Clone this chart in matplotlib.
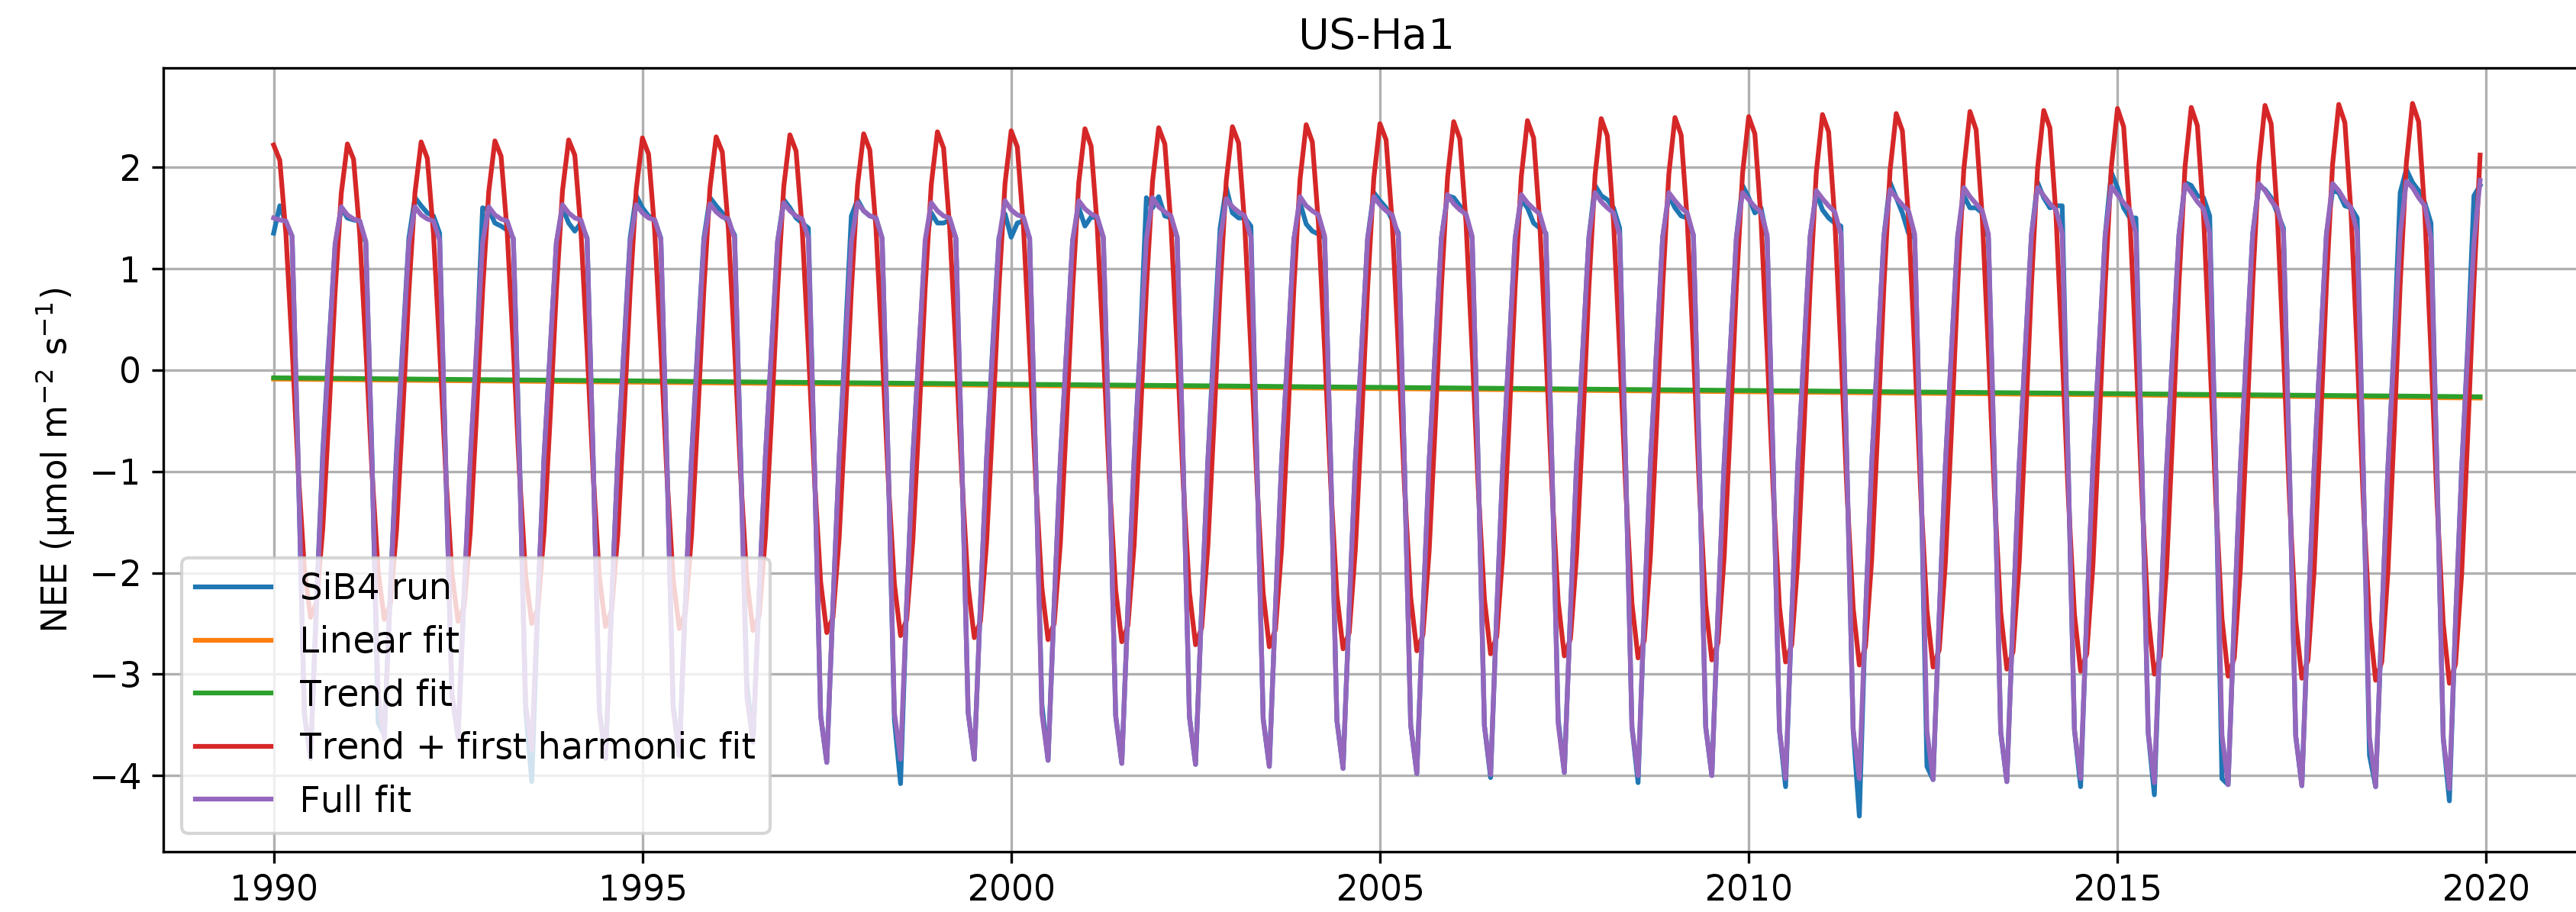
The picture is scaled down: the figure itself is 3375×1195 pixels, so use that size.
"""
NEE at US-Ha1: SiB4 run against linear, trend, harmonic and full curve fits.
"""

import numpy as np
import matplotlib.pyplot as plt

plt.rcParams["font.size"] = 11
# older-style glyph hinting / kerning, which sets text a little wider
plt.rcParams["text.hinting"] = "native"
plt.rcParams["text.hinting_factor"] = 1
plt.rcParams["text.kerning_factor"] = 6

# Monthly values, one row per year (Jan..Dec), 1990-2019
years = list(range(1990, 2020))

sib4_run = [
    [1.35, 1.62, 1.45, 1.32, -0.95, -3.40, -3.83, -2.25, -0.80, 0.25, 1.22, 1.60],
    [1.50, 1.48, 1.47, 1.25, -0.85, -3.48, -3.60, -2.15, -0.80, 0.25, 1.30, 1.70],
    [1.62, 1.55, 1.52, 1.35, -0.95, -3.20, -3.62, -2.20, -0.90, 0.15, 1.60, 1.58],
    [1.45, 1.42, 1.38, 1.30, -0.85, -3.35, -4.06, -2.30, -0.85, 0.20, 1.25, 1.60],
    [1.45, 1.37, 1.45, 1.30, -0.90, -3.35, -3.83, -2.30, -0.85, 0.22, 1.30, 1.72],
    [1.60, 1.52, 1.48, 1.30, -0.92, -3.30, -3.80, -2.28, -0.85, 0.25, 1.30, 1.70],
    [1.62, 1.55, 1.45, 1.33, -0.90, -3.10, -3.67, -2.20, -0.87, 0.20, 1.27, 1.68],
    [1.60, 1.50, 1.45, 1.40, -0.95, -3.41, -3.87, -2.32, -0.88, 0.30, 1.52, 1.68],
    [1.57, 1.52, 1.50, 1.30, -0.93, -3.45, -4.08, -2.30, -0.85, 0.20, 1.20, 1.55],
    [1.45, 1.45, 1.48, 1.30, -0.94, -3.38, -3.84, -2.30, -0.88, 0.25, 1.30, 1.54],
    [1.31, 1.45, 1.47, 1.30, -0.94, -3.30, -3.85, -2.31, -0.89, 0.20, 1.28, 1.60],
    [1.42, 1.51, 1.50, 1.30, -0.94, -3.41, -3.88, -2.33, -0.89, 0.25, 1.70, 1.60],
    [1.71, 1.52, 1.50, 1.31, -0.95, -3.42, -3.89, -2.33, -0.90, 0.30, 1.40, 1.80],
    [1.55, 1.50, 1.50, 1.42, -0.95, -3.44, -3.91, -2.35, -0.90, 0.20, 1.29, 1.65],
    [1.44, 1.37, 1.34, 1.30, -0.96, -3.46, -3.93, -2.36, -0.91, 0.20, 1.30, 1.75],
    [1.67, 1.60, 1.48, 1.35, -0.96, -3.50, -3.98, -2.39, -0.91, 0.20, 1.30, 1.72],
    [1.70, 1.62, 1.52, 1.30, -0.97, -3.51, -4.02, -2.39, -0.92, 0.20, 1.30, 1.68],
    [1.60, 1.45, 1.40, 1.35, -0.97, -3.45, -3.97, -2.38, -0.92, 0.20, 1.31, 1.82],
    [1.72, 1.68, 1.60, 1.40, -0.97, -3.52, -4.07, -2.40, -0.92, 0.20, 1.31, 1.72],
    [1.60, 1.52, 1.50, 1.33, -0.98, -3.52, -4.00, -2.40, -0.93, 0.20, 1.31, 1.82],
    [1.70, 1.55, 1.60, 1.30, -0.98, -3.55, -4.11, -2.42, -0.93, 0.20, 1.32, 1.75],
    [1.58, 1.50, 1.45, 1.42, -0.99, -3.55, -4.40, -2.42, -0.94, 0.20, 1.32, 1.85],
    [1.70, 1.55, 1.35, 1.30, -0.99, -3.91, -4.04, -2.42, -0.94, 0.20, 1.32, 1.72],
    [1.60, 1.60, 1.55, 1.30, -1.00, -3.57, -4.06, -2.44, -0.95, 0.20, 1.33, 1.85],
    [1.70, 1.60, 1.62, 1.62, -1.00, -3.55, -4.11, -2.42, -0.95, 0.20, 1.33, 1.95],
    [1.80, 1.60, 1.50, 1.50, -1.01, -3.58, -4.19, -2.44, -0.96, 0.20, 1.33, 1.85],
    [1.82, 1.72, 1.70, 1.52, -1.01, -4.03, -4.09, -2.45, -0.96, 0.20, 1.34, 1.82],
    [1.78, 1.70, 1.55, 1.40, -1.02, -3.61, -4.10, -2.46, -0.97, 0.20, 1.34, 1.77],
    [1.75, 1.62, 1.60, 1.50, -1.02, -3.80, -4.11, -2.47, -0.97, 0.25, 1.75, 1.98],
    [1.85, 1.77, 1.65, 1.45, -1.03, -3.63, -4.25, -2.48, -0.98, 0.25, 1.72, 1.82],
]

harmonic_fit = [
    [2.22, 2.07, 1.34, 0.22, -0.99, -1.96, -2.44, -2.29, -1.56, -0.44, 0.77, 1.74],
    [2.23, 2.08, 1.35, 0.22, -1.00, -1.98, -2.46, -2.31, -1.57, -0.44, 0.77, 1.75],
    [2.25, 2.09, 1.35, 0.21, -1.01, -2.00, -2.48, -2.33, -1.59, -0.45, 0.78, 1.76],
    [2.26, 2.11, 1.36, 0.21, -1.02, -2.02, -2.50, -2.35, -1.60, -0.46, 0.78, 1.77],
    [2.27, 2.12, 1.37, 0.21, -1.04, -2.04, -2.53, -2.37, -1.62, -0.46, 0.78, 1.78],
    [2.29, 2.13, 1.37, 0.21, -1.05, -2.06, -2.55, -2.39, -1.63, -0.47, 0.79, 1.80],
    [2.30, 2.15, 1.38, 0.21, -1.06, -2.07, -2.57, -2.42, -1.65, -0.48, 0.79, 1.81],
    [2.32, 2.16, 1.39, 0.21, -1.07, -2.09, -2.59, -2.44, -1.67, -0.48, 0.79, 1.82],
    [2.33, 2.17, 1.40, 0.21, -1.08, -2.11, -2.62, -2.46, -1.68, -0.49, 0.80, 1.83],
    [2.35, 2.19, 1.40, 0.20, -1.09, -2.13, -2.64, -2.48, -1.70, -0.50, 0.80, 1.84],
    [2.36, 2.20, 1.41, 0.20, -1.10, -2.15, -2.66, -2.50, -1.71, -0.50, 0.80, 1.85],
    [2.38, 2.21, 1.42, 0.20, -1.11, -2.17, -2.68, -2.52, -1.73, -0.51, 0.80, 1.86],
    [2.39, 2.23, 1.43, 0.20, -1.12, -2.19, -2.71, -2.54, -1.74, -0.52, 0.81, 1.87],
    [2.40, 2.24, 1.43, 0.20, -1.13, -2.20, -2.73, -2.56, -1.76, -0.52, 0.81, 1.88],
    [2.42, 2.25, 1.44, 0.20, -1.14, -2.22, -2.75, -2.59, -1.77, -0.53, 0.81, 1.89],
    [2.43, 2.27, 1.45, 0.20, -1.16, -2.24, -2.77, -2.61, -1.79, -0.54, 0.82, 1.90],
    [2.45, 2.28, 1.46, 0.19, -1.17, -2.26, -2.80, -2.63, -1.80, -0.54, 0.82, 1.91],
    [2.46, 2.29, 1.46, 0.19, -1.18, -2.28, -2.82, -2.65, -1.82, -0.55, 0.82, 1.92],
    [2.48, 2.31, 1.47, 0.19, -1.19, -2.30, -2.84, -2.67, -1.84, -0.56, 0.82, 1.93],
    [2.49, 2.32, 1.48, 0.19, -1.20, -2.32, -2.86, -2.69, -1.85, -0.56, 0.83, 1.94],
    [2.50, 2.33, 1.49, 0.19, -1.21, -2.33, -2.88, -2.71, -1.87, -0.57, 0.83, 1.95],
    [2.52, 2.35, 1.49, 0.19, -1.22, -2.35, -2.91, -2.73, -1.88, -0.58, 0.83, 1.97],
    [2.53, 2.36, 1.50, 0.19, -1.23, -2.37, -2.93, -2.76, -1.90, -0.58, 0.84, 1.98],
    [2.55, 2.37, 1.51, 0.18, -1.24, -2.39, -2.95, -2.78, -1.91, -0.59, 0.84, 1.99],
    [2.56, 2.39, 1.52, 0.18, -1.25, -2.41, -2.97, -2.80, -1.93, -0.59, 0.84, 2.00],
    [2.58, 2.40, 1.52, 0.18, -1.27, -2.43, -3.00, -2.82, -1.94, -0.60, 0.85, 2.01],
    [2.59, 2.41, 1.53, 0.18, -1.28, -2.45, -3.02, -2.84, -1.96, -0.61, 0.85, 2.02],
    [2.61, 2.43, 1.54, 0.18, -1.29, -2.47, -3.04, -2.86, -1.98, -0.61, 0.85, 2.03],
    [2.62, 2.44, 1.55, 0.18, -1.30, -2.48, -3.06, -2.88, -1.99, -0.62, 0.85, 2.04],
    [2.63, 2.45, 1.55, 0.18, -1.31, -2.50, -3.09, -2.90, -2.01, -0.63, 0.86, 2.12],
]

full_fit = [
    [1.50, 1.48, 1.47, 1.32, -0.90, -3.38, -3.83, -2.29, -0.85, 0.20, 1.25, 1.61],
    [1.53, 1.49, 1.47, 1.27, -0.90, -3.20, -3.64, -2.18, -0.85, 0.20, 1.25, 1.61],
    [1.53, 1.49, 1.47, 1.28, -0.91, -3.19, -3.63, -2.18, -0.86, 0.20, 1.26, 1.61],
    [1.53, 1.49, 1.47, 1.29, -0.91, -3.30, -3.75, -2.25, -0.86, 0.20, 1.26, 1.63],
    [1.55, 1.50, 1.48, 1.29, -0.92, -3.37, -3.83, -2.30, -0.87, 0.20, 1.26, 1.63],
    [1.55, 1.50, 1.48, 1.29, -0.92, -3.34, -3.80, -2.28, -0.87, 0.20, 1.27, 1.64],
    [1.56, 1.51, 1.49, 1.30, -0.92, -3.23, -3.67, -2.20, -0.87, 0.20, 1.27, 1.65],
    [1.57, 1.52, 1.49, 1.30, -0.93, -3.41, -3.87, -2.32, -0.88, 0.20, 1.27, 1.65],
    [1.57, 1.52, 1.50, 1.30, -0.93, -3.38, -3.84, -2.30, -0.88, 0.20, 1.28, 1.65],
    [1.57, 1.52, 1.50, 1.30, -0.94, -3.38, -3.84, -2.30, -0.88, 0.20, 1.28, 1.67],
    [1.58, 1.53, 1.51, 1.30, -0.94, -3.39, -3.85, -2.31, -0.89, 0.20, 1.28, 1.67],
    [1.59, 1.54, 1.51, 1.31, -0.94, -3.41, -3.88, -2.33, -0.89, 0.20, 1.29, 1.70],
    [1.61, 1.56, 1.52, 1.31, -0.95, -3.42, -3.89, -2.33, -0.90, 0.20, 1.29, 1.69],
    [1.61, 1.56, 1.52, 1.31, -0.95, -3.44, -3.91, -2.35, -0.90, 0.20, 1.29, 1.71],
    [1.62, 1.57, 1.53, 1.32, -0.96, -3.46, -3.93, -2.36, -0.91, 0.20, 1.30, 1.71],
    [1.63, 1.57, 1.53, 1.32, -0.96, -3.50, -3.98, -2.39, -0.91, 0.20, 1.30, 1.73],
    [1.64, 1.58, 1.54, 1.32, -0.97, -3.51, -3.99, -2.39, -0.92, 0.20, 1.30, 1.73],
    [1.65, 1.59, 1.54, 1.33, -0.97, -3.49, -3.97, -2.38, -0.92, 0.20, 1.31, 1.75],
    [1.66, 1.60, 1.55, 1.33, -0.97, -3.52, -4.00, -2.40, -0.92, 0.20, 1.31, 1.75],
    [1.67, 1.60, 1.55, 1.33, -0.98, -3.52, -4.00, -2.40, -0.93, 0.20, 1.31, 1.75],
    [1.68, 1.61, 1.56, 1.33, -0.98, -3.55, -4.03, -2.42, -0.93, 0.20, 1.32, 1.77],
    [1.69, 1.62, 1.56, 1.34, -0.99, -3.55, -4.03, -2.42, -0.94, 0.20, 1.32, 1.78],
    [1.70, 1.63, 1.57, 1.34, -0.99, -3.56, -4.04, -2.42, -0.94, 0.20, 1.32, 1.80],
    [1.71, 1.64, 1.57, 1.34, -1.00, -3.57, -4.06, -2.44, -0.95, 0.20, 1.33, 1.80],
    [1.72, 1.64, 1.58, 1.35, -1.00, -3.55, -4.03, -2.42, -0.95, 0.20, 1.33, 1.81],
    [1.73, 1.65, 1.58, 1.35, -1.01, -3.58, -4.07, -2.44, -0.96, 0.20, 1.33, 1.83],
    [1.75, 1.66, 1.59, 1.35, -1.01, -3.60, -4.09, -2.45, -0.96, 0.20, 1.34, 1.84],
    [1.77, 1.67, 1.59, 1.36, -1.02, -3.61, -4.10, -2.46, -0.97, 0.20, 1.34, 1.84],
    [1.77, 1.67, 1.60, 1.36, -1.02, -3.62, -4.11, -2.47, -0.97, 0.20, 1.34, 1.86],
    [1.80, 1.70, 1.62, 1.30, -1.03, -3.63, -4.13, -2.48, -0.98, 0.20, 1.25, 1.87],
]

# Trend lines, read at January of each year plus the last month (Dec 2019)
trend_time = [float(y) for y in years] + [2019 + 11 / 12]
trend_fit = [
    -0.077, -0.083, -0.090, -0.096, -0.102, -0.108, -0.115, -0.121, -0.127, -0.133,
    -0.140, -0.146, -0.152, -0.158, -0.165, -0.171, -0.177, -0.183, -0.190, -0.196,
    -0.202, -0.208, -0.215, -0.221, -0.227, -0.233, -0.240, -0.246, -0.252, -0.258,
    -0.264,
]
linear_fit = [
    -0.089, -0.095, -0.102, -0.108, -0.114, -0.120, -0.127, -0.133, -0.139, -0.145,
    -0.152, -0.158, -0.164, -0.170, -0.177, -0.183, -0.189, -0.195, -0.202, -0.208,
    -0.214, -0.220, -0.227, -0.233, -0.239, -0.245, -0.252, -0.258, -0.264, -0.270,
    -0.276,
]


def main():
    # Decimal-year time axis for the monthly series
    time = years[0] + np.arange(len(years) * 12) / 12.0

    fig = plt.figure(figsize=(3375 / 300, 1195 / 300), dpi=300)
    # Axes runs slightly past the right edge of the saved image, as in the original
    ax = fig.add_axes([0.0634, 0.0661, 0.9422, 0.8596])

    ax.plot(time, np.ravel(sib4_run), label="SiB4 run")
    ax.plot(trend_time, linear_fit, label="Linear fit")
    ax.plot(trend_time, trend_fit, label="Trend fit")
    ax.plot(time, np.ravel(harmonic_fit), label="Trend + first harmonic fit")
    ax.plot(time, np.ravel(full_fit), label="Full fit")

    ax.set_xticks([1990, 1995, 2000, 2005, 2010, 2015, 2020])
    ax.grid(True)
    ax.set_title("US-Ha1")
    ax.set_ylabel("NEE (µmol m$^{-2}$ s$^{-1}$)")
    ax.legend(loc="lower left", fontsize=11.3, handlelength=2.1)

    fig.savefig("out.png", dpi=300, facecolor="white")


if __name__ == "__main__":
    main()
